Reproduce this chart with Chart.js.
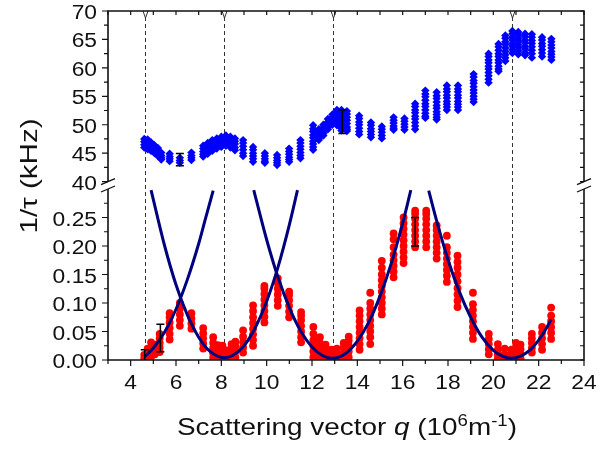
<!DOCTYPE html>
<html>
<head>
<meta charset="utf-8">
<script src="https://cdn.jsdelivr.net/npm/chart.js@4.4.0/dist/chart.umd.min.js"></script>
<style>
  html, body { margin: 0; padding: 0; background: #fff; }
</style>
</head>
<body>
<canvas id="rate-chart" width="611" height="449"></canvas>
<script>
// Relaxation rate 1/tau versus scattering vector q, split axis

// upper branch (kHz), one column of points per q
const blueQ = [4.60, 4.75, 4.90, 5.05, 5.20, 5.35, 5.72, 6.17, 6.68, 7.20, 7.40, 7.60, 7.80, 8.00,
  8.20, 8.40, 8.60, 8.96, 9.40, 9.92, 10.46, 10.99, 11.49, 12.05, 12.30, 12.50, 12.70, 12.90,
  13.10, 13.30, 13.54, 14.08, 14.60, 15.08, 15.60, 16.08, 16.55, 17.00, 17.50, 17.95, 18.44,
  19.13, 19.79, 20.23, 20.53, 20.84, 21.10, 21.40, 21.70, 22.15, 22.56];
const blueRates = [
  [47.5, 47.0, 46.5, 46.0], [47.4, 46.9, 46.3, 45.7], [46.9, 46.4, 45.9, 45.4], [46.4, 45.9, 45.4, 45.0],
  [45.9, 45.4, 44.9, 44.5], [45.1, 44.6, 44.2, 43.9], [44.9, 44.4, 44.0, 43.6], [44.2, 43.7, 43.3],
  [45.1, 44.6, 44.2, 43.8], [46.3, 45.8, 45.3, 44.8, 44.4], [46.8, 46.3, 45.8, 45.3, 44.9],
  [47.3, 46.8, 46.3, 45.8, 45.4], [47.6, 47.1, 46.6, 46.2, 45.8], [47.9, 47.4, 46.9, 46.5, 46.1],
  [48.1, 47.6, 47.1, 46.7, 46.3], [47.9, 47.4, 46.9, 46.5, 46.0], [47.6, 47.1, 46.6, 46.0, 45.5],
  [47.3, 46.8, 46.2, 45.6, 45.0, 44.5], [46.1, 45.6, 45.0, 44.5, 44.0, 43.5],
  [45.0, 44.5, 44.0, 43.6, 43.3], [44.7, 44.2, 43.7, 43.3, 42.9], [45.8, 45.3, 44.8, 44.3, 43.9, 43.5],
  [47.3, 46.8, 46.2, 45.7, 45.1, 44.6, 44.1], [49.9, 49.3, 48.8, 48.2, 47.7, 47.1, 46.6, 46.1, 45.6],
  [49.2, 48.7, 48.2, 47.7, 47.3], [50.0, 49.5, 49.0, 48.5, 48.1], [51.0, 50.5, 50.0, 49.6, 49.2],
  [51.8, 51.3, 50.8, 50.4, 50.0], [52.6, 52.1, 51.6, 51.0, 50.5, 49.9],
  [52.6, 52.1, 51.5, 51.0, 50.4, 49.8, 49.4, 49.0], [52.4, 51.9, 51.3, 50.8, 50.2, 49.6, 49.2, 48.9],
  [51.6, 51.1, 50.5, 50.0, 49.4, 48.8, 48.3], [50.4, 49.9, 49.3, 48.8, 48.3, 47.8],
  [49.7, 49.2, 48.7, 48.1, 47.6], [51.3, 50.8, 50.3, 49.8, 49.4, 49.1], [51.1, 50.6, 50.1, 49.6, 49.1],
  [53.7, 53.2, 52.6, 52.1, 51.5, 51.0, 50.4, 49.8, 49.2],
  [56.0, 55.4, 54.9, 54.3, 53.7, 53.2, 52.6, 52.0, 51.5, 51.2],
  [55.7, 55.1, 54.6, 54.0, 53.4, 52.9, 52.3, 51.8, 51.3, 50.9],
  [56.9, 56.3, 55.8, 55.2, 54.7, 54.1, 53.6, 53.1, 52.6],
  [56.9, 56.3, 55.8, 55.2, 54.7, 54.1, 53.6, 53.1, 52.6],
  [58.9, 58.4, 57.8, 57.3, 56.7, 56.1, 55.6, 55.0, 54.5, 54.0],
  [62.5, 62.0, 61.4, 60.9, 60.3, 59.8, 59.2, 58.6, 58.0, 57.4],
  [64.2, 63.7, 63.1, 62.5, 62.0, 61.4, 60.9, 60.3, 59.8, 59.4],
  [65.7, 65.2, 64.6, 64.1, 63.5, 62.9, 62.3, 61.8, 61.2],
  [66.5, 66.0, 65.4, 64.9, 64.3, 63.8, 63.2, 62.6],
  [66.3, 65.8, 65.2, 64.7, 64.1, 63.6, 63.0, 62.4],
  [66.0, 65.5, 64.9, 64.4, 63.8, 63.3, 62.7, 62.2],
  [65.9, 65.4, 64.8, 64.3, 63.7, 63.1, 62.5, 61.8],
  [65.4, 64.9, 64.3, 63.8, 63.2, 62.6, 62.0],
  [65.1, 64.6, 64.0, 63.5, 62.9, 62.4, 61.9, 61.4]
];

// lower branch (kHz)
const redQ = [4.60, 4.75, 4.90, 5.06, 5.28, 5.72, 6.17, 6.68, 7.20, 7.64, 7.85, 8.05, 8.25, 8.45,
  8.62, 8.96, 9.40, 9.90, 10.49, 10.99, 11.52, 12.06, 12.35, 12.60, 12.85, 13.10, 13.40, 13.62,
  14.10, 14.57, 15.08, 15.60, 16.04, 16.55, 17.04, 17.50, 17.95, 18.42, 19.10, 19.80, 20.20,
  20.50, 20.80, 21.00, 21.20, 21.70, 22.15, 22.55];
const redRates = [
  [0.003, 0.009], [0.004, 0.012, 0.020], [0.006, 0.014, 0.022, 0.031], [0.010, 0.018, 0.027],
  [0.014, 0.022, 0.030, 0.038, 0.046], [0.036, 0.046, 0.056, 0.066, 0.075, 0.082],
  [0.060, 0.070, 0.080, 0.090, 0.100], [0.055, 0.064, 0.073, 0.082],
  [0.020, 0.029, 0.038, 0.047, 0.056], [0.004, 0.012, 0.021, 0.030, 0.040],
  [0.003, 0.010, 0.018, 0.026], [0.003, 0.010, 0.018, 0.025], [0.003, 0.010, 0.017],
  [0.004, 0.012, 0.020, 0.028], [0.005, 0.015, 0.024, 0.032], [0.013, 0.022, 0.031, 0.041, 0.052],
  [0.025, 0.035, 0.045, 0.055, 0.065, 0.075, 0.086, 0.096],
  [0.066, 0.076, 0.086, 0.096, 0.106, 0.116, 0.125, 0.130],
  [0.095, 0.105, 0.115, 0.125, 0.135, 0.143], [0.075, 0.085, 0.095, 0.105, 0.114, 0.120],
  [0.031, 0.040, 0.050, 0.060, 0.070, 0.078, 0.084], [0.005, 0.015, 0.025, 0.035, 0.046, 0.058],
  [0.003, 0.011, 0.020, 0.030, 0.040], [0.003, 0.010, 0.018, 0.027], [0.003, 0.010, 0.018],
  [0.003, 0.011, 0.020], [0.005, 0.013, 0.022, 0.030], [0.005, 0.015, 0.025, 0.034, 0.041],
  [0.018, 0.028, 0.038, 0.048, 0.058, 0.068, 0.078, 0.087],
  [0.028, 0.040, 0.050, 0.060, 0.070, 0.080, 0.090, 0.100, 0.118],
  [0.080, 0.090, 0.100, 0.110, 0.120, 0.130, 0.140, 0.150, 0.162, 0.174],
  [0.145, 0.155, 0.165, 0.175, 0.185, 0.198, 0.212, 0.222],
  [0.170, 0.180, 0.190, 0.200, 0.210, 0.220, 0.230, 0.240, 0.250],
  [0.198, 0.208, 0.218, 0.228, 0.238, 0.248, 0.256, 0.262],
  [0.198, 0.208, 0.218, 0.228, 0.238, 0.248, 0.256, 0.262],
  [0.178, 0.188, 0.198, 0.208, 0.218, 0.228, 0.236],
  [0.137, 0.148, 0.158, 0.168, 0.178, 0.188, 0.198, 0.218],
  [0.093, 0.104, 0.115, 0.126, 0.138, 0.150, 0.162, 0.172, 0.183],
  [0.037, 0.048, 0.058, 0.068, 0.078, 0.088, 0.098, 0.118],
  [0.010, 0.019, 0.028, 0.037, 0.046], [0.003, 0.010, 0.018, 0.028], [0.003, 0.010, 0.020],
  [0.003, 0.010, 0.018], [0.003, 0.012, 0.022, 0.030], [0.003, 0.010, 0.019, 0.027],
  [0.013, 0.021, 0.030, 0.038, 0.046], [0.018, 0.028, 0.038, 0.048, 0.058],
  [0.037, 0.048, 0.058, 0.068, 0.078, 0.092]
];

// parabolic fits around each minimum
const fitAQ = [4.62, 5.0, 5.5, 6.0, 6.5, 7.0, 7.3, 7.64];
const fitARate = [0.006, 0.021, 0.049, 0.089, 0.141, 0.204, 0.248, 0.297];
const fitBQ = [4.90, 5.5, 6.0, 6.5, 7.0, 7.5, 8.13, 8.5, 9.0, 9.5, 10.0, 10.5, 11.0, 11.36];
const fitBRate = [0.298, 0.200, 0.132, 0.079, 0.040, 0.015, 0.004, 0.008, 0.025, 0.057, 0.103, 0.163, 0.237, 0.298];
const fitCQ = [9.43, 10.0, 10.5, 11.0, 11.5, 12.0, 12.5, 12.9, 13.5, 14.0, 14.5, 15.0, 15.5, 16.0, 16.36];
const fitCRate = [0.298, 0.211, 0.145, 0.092, 0.051, 0.023, 0.007, 0.003, 0.012, 0.033, 0.066, 0.112, 0.170, 0.240, 0.298];
const fitDQ = [17.15, 17.5, 18.0, 18.5, 19.0, 19.5, 20.0, 20.4, 20.8, 21.2, 21.6, 22.0, 22.3, 22.55];
const fitDRate = [0.297, 0.244, 0.176, 0.120, 0.075, 0.040, 0.017, 0.007, 0.003, 0.007, 0.017, 0.035, 0.053, 0.071];

// error bars: position, centre, half width
const errLowQ = [4.62, 5.31, 16.55];
const errLowRate = [0.004, 0.0386, 0.225];
const errLowSize = [0.014, 0.024, 0.025];
const errHighQ = [6.17, 13.34];
const errHighRate = [43.87, 50.53];
const errHighSize = [1.09, 2.05];

// minima positions (dashed guides)
const braggQ = [4.62, 8.12, 12.92, 20.81];

// tick labels
const xTickLabels = [4, 6, 8, 10, 12, 14, 16, 18, 20, 22, 24];
const highTickLabels = [40, 45, 50, 55, 60, 65, 70];
const lowTickLabels = [0, 0.05, 0.10, 0.15, 0.20, 0.25];

const FONT = '"Liberation Sans", Arial, sans-serif';
const INK = '#111';

function columns(qs, rates) {
  return qs.flatMap((q, i) => rates[i].map(v => ({x: q, y: v})));
}
function pairs(qs, rates) {
  return qs.map((q, i) => ({x: q, y: rates[i]}));
}
function range(from, to, step) {
  const out = [];
  for (let v = from; v <= to + step / 10; v += step) out.push(+v.toFixed(4));
  return out;
}

function stretched(ctx, text, x, y, sx) {
  ctx.save();
  ctx.translate(x, y);
  ctx.scale(sx, 1);
  ctx.fillText(text, 0, 0);
  ctx.restore();
}

function errorBar(ctx, xs, ys, q, v, e) {
  const px = xs.getPixelForValue(q);
  const y1 = ys.getPixelForValue(v + e);
  const y2 = ys.getPixelForValue(v - e);
  ctx.beginPath();
  ctx.moveTo(px, y1); ctx.lineTo(px, y2);
  ctx.moveTo(px - 4, y1); ctx.lineTo(px + 4, y1);
  ctx.moveTo(px - 4, y2); ctx.lineTo(px + 4, y2);
  ctx.stroke();
}

const axesPlugin = {
  id: 'brokenAxes',
  beforeDatasetsDraw(chart) {
    const {ctx, chartArea: a, scales: {x}} = chart;
    ctx.save();
    ctx.strokeStyle = '#333';
    ctx.lineWidth = 1;
    ctx.setLineDash([4, 3]);
    braggQ.forEach(q => {
      const px = Math.round(x.getPixelForValue(q)) + 0.5;
      ctx.beginPath();
      ctx.moveTo(px, a.top + 6);
      ctx.lineTo(px, a.bottom);
      ctx.stroke();
    });
    ctx.setLineDash([]);
    braggQ.forEach(q => {
      const px = Math.round(x.getPixelForValue(q)) + 0.5;
      ctx.beginPath();
      ctx.moveTo(px - 2.5, a.top);
      ctx.lineTo(px, a.top + 7);
      ctx.lineTo(px + 2.5, a.top);
      ctx.stroke();
    });
    ctx.restore();
  },
  afterDatasetsDraw(chart) {
    const {ctx, chartArea: a, scales: {x, yHigh, yLow}} = chart;
    ctx.save();

    // error bars
    ctx.save();
    ctx.beginPath();
    ctx.rect(a.left, a.top, a.right - a.left, a.bottom - a.top);
    ctx.clip();
    ctx.strokeStyle = '#000';
    ctx.lineWidth = 1.5;
    errLowQ.forEach((q, i) => errorBar(ctx, x, yLow, q, errLowRate[i], errLowSize[i]));
    errHighQ.forEach((q, i) => errorBar(ctx, x, yHigh, q, errHighRate[i], errHighSize[i]));
    ctx.restore();

    const yBreakHi = yHigh.getPixelForValue(40);
    const yBreakLo = yLow.getPixelForValue(0.30);

    // frame
    ctx.strokeStyle = INK;
    ctx.lineWidth = 1.6;
    ctx.beginPath();
    ctx.moveTo(a.left, yBreakHi); ctx.lineTo(a.left, a.top); ctx.lineTo(a.right, a.top); ctx.lineTo(a.right, yBreakHi);
    ctx.moveTo(a.left, yBreakLo); ctx.lineTo(a.left, a.bottom); ctx.lineTo(a.right, a.bottom); ctx.lineTo(a.right, yBreakLo);
    ctx.stroke();

    // break marks
    ctx.lineWidth = 1.3;
    [a.left, a.right].forEach(bx => {
      ctx.beginPath();
      ctx.moveTo(bx - 7, yBreakHi + 3); ctx.lineTo(bx + 7, yBreakHi - 3);
      ctx.moveTo(bx - 7, yBreakLo + 3); ctx.lineTo(bx + 7, yBreakLo - 3);
      ctx.stroke();
    });

    // tick marks
    ctx.lineWidth = 1.2;
    ctx.beginPath();
    range(3, 24, 1).forEach(q => {
      const px = x.getPixelForValue(q);
      const major = q % 2 === 0;
      ctx.moveTo(px, a.bottom); ctx.lineTo(px, a.bottom + (major ? 6 : 4));
      ctx.moveTo(px, a.top); ctx.lineTo(px, a.top + 4);
    });
    range(40, 70, 2.5).forEach(v => {
      const py = yHigh.getPixelForValue(v);
      const major = v % 5 === 0;
      ctx.moveTo(a.left, py); ctx.lineTo(a.left - (major ? 6 : 4), py);
      ctx.moveTo(a.right, py); ctx.lineTo(a.right - 4, py);
    });
    range(0, 0.275, 0.025).forEach(v => {
      const py = yLow.getPixelForValue(v);
      const major = Math.round(v * 1000) % 50 === 0;
      ctx.moveTo(a.left, py); ctx.lineTo(a.left - (major ? 6 : 4), py);
      ctx.moveTo(a.right, py); ctx.lineTo(a.right - 4, py);
    });
    ctx.stroke();

    // tick labels
    ctx.fillStyle = INK;
    ctx.font = '20px ' + FONT;
    ctx.textAlign = 'center';
    ctx.textBaseline = 'alphabetic';
    xTickLabels.forEach(q => stretched(ctx, String(q), x.getPixelForValue(q), 389, 1.14));
    ctx.textAlign = 'right';
    highTickLabels.forEach(v => stretched(ctx, String(v), 97, yHigh.getPixelForValue(v) + 8, 1.14));
    lowTickLabels.forEach(v => stretched(ctx, v.toFixed(2), 97, yLow.getPixelForValue(v) + 8, 1.14));

    // x title with italic q and superscripts
    const runs = [
      {t: 'Scattering vector ', f: '24px ' + FONT, r: 0},
      {t: 'q', f: 'italic 24px ' + FONT, r: 0},
      {t: ' (10', f: '24px ' + FONT, r: 0},
      {t: '6', f: '16px ' + FONT, r: 9},
      {t: 'm', f: '24px ' + FONT, r: 0},
      {t: '-1', f: '16px ' + FONT, r: 9},
      {t: ')', f: '24px ' + FONT, r: 0}
    ];
    let total = 0;
    runs.forEach(run => { ctx.font = run.f; run.w = ctx.measureText(run.t).width; total += run.w; });
    const sx = 340 / total;
    ctx.save();
    ctx.translate(347 - total * sx / 2, 435);
    ctx.scale(sx, 1);
    ctx.textAlign = 'left';
    let cx = 0;
    runs.forEach(run => { ctx.font = run.f; ctx.fillText(run.t, cx, -run.r); cx += run.w; });
    ctx.restore();

    // y title
    ctx.save();
    ctx.font = '24px ' + FONT;
    const label = '1/\u03c4 (kHz)';
    const w = ctx.measureText(label).width;
    ctx.translate(37, 176);
    ctx.rotate(-Math.PI / 2);
    ctx.scale(115 / w, 1);
    ctx.textAlign = 'center';
    ctx.fillText(label, 0, 0);
    ctx.restore();

    ctx.restore();
  }
};

const hidden = {
  ticks: {display: false},
  grid: {display: false},
  border: {display: false}
};

new Chart(document.getElementById('rate-chart'), {
  type: 'scatter',
  data: {
    datasets: [
      {data: pairs(fitAQ, fitARate), yAxisID: 'yLow', showLine: true},
      {data: pairs(fitBQ, fitBRate), yAxisID: 'yLow', showLine: true},
      {data: pairs(fitCQ, fitCRate), yAxisID: 'yLow', showLine: true},
      {data: pairs(fitDQ, fitDRate), yAxisID: 'yLow', showLine: true},
      {data: columns(redQ, redRates), yAxisID: 'yLow', pointStyle: 'circle', pointRadius: 3.9,
        backgroundColor: '#ff0000', borderWidth: 0},
      {data: columns(blueQ, blueRates), yAxisID: 'yHigh', pointStyle: 'rectRot', pointRadius: 4.2,
        backgroundColor: '#0000ff', borderWidth: 0}
    ].map((d, i) => i < 4 ? Object.assign(d, {
      borderColor: '#00007f', borderWidth: 3, pointRadius: 0, cubicInterpolationMode: 'monotone', fill: false
    }) : d)
  },
  options: {
    responsive: false,
    animation: false,
    devicePixelRatio: 1,
    events: [],
    layout: {padding: {left: 0, top: 11, right: 27, bottom: 0}},
    plugins: {legend: {display: false}, tooltip: {enabled: false}},
    scales: {
      x: Object.assign({type: 'linear', min: 3, max: 24, afterFit: s => { s.height = 89; }}, hidden),
      yLow: Object.assign({type: 'linear', position: 'left', stack: 'rate', stackWeight: 171,
        min: 0, max: 0.30, afterFit: s => { s.width = 108; }}, hidden),
      yHigh: Object.assign({type: 'linear', position: 'left', stack: 'rate', stackWeight: 178,
        min: 38.7, max: 70, afterFit: s => { s.width = 108; }}, hidden)
    }
  },
  plugins: [axesPlugin]
});
</script>
</body>
</html>
